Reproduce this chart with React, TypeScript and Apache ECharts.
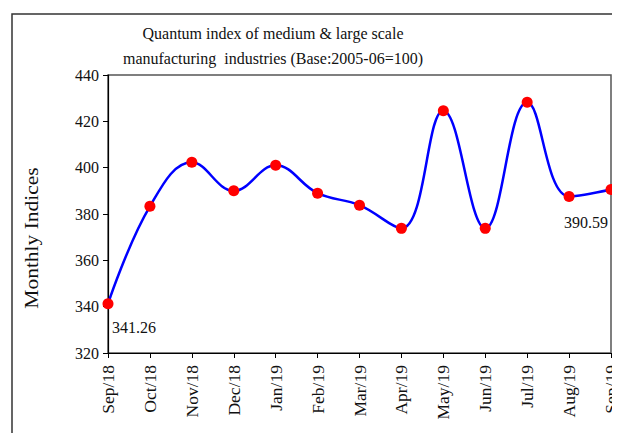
import React, { useEffect, useRef } from "react";
import * as echarts from "echarts";

const categories = ["Sep/18", "Oct/18", "Nov/18", "Dec/18", "Jan/19", "Feb/19", "Mar/19", "Apr/19", "May/19", "Jun/19", "Jul/19", "Aug/19", "Sep/19"];
const values = [341.26, 383.3, 402.3, 390.0, 401.0, 389.0, 383.8, 373.8, 424.6, 373.8, 428.2, 387.6, 390.59];
const titleLines = ["Quantum index of medium & large scale", "manufacturing  industries (Base:2005-06=100)"];
const yAxisName = "Monthly Indices";
const FONT = "Liberation Serif";

export default function App() {
  const ref = useRef<HTMLDivElement>(null);
  useEffect(() => {
    if (!ref.current) return;
    const chart = echarts.init(ref.current, null, { renderer: "svg" });
    const lastIdx = values.length - 1;
    chart.setOption({
      animation: false,
      backgroundColor: "#ffffff",
      textStyle: { fontFamily: FONT },
      title: {
        text: titleLines.join("\n"),
        left: 268,
        top: 16,
        textAlign: "center",
        textStyle: { fontFamily: FONT, fontSize: 16, fontWeight: "normal", color: "#111", lineHeight: 25 },
      },
      graphic: [
        {
          type: "rect",
          shape: { x: 12, y: 14, width: 800, height: 600 },
          style: { fill: "none", stroke: "#333", lineWidth: 1.5 },
          silent: true,
          z: -1,
        },
        {
          type: "text",
          x: 31,
          y: 238,
          rotation: Math.PI / 2,
          scaleX: 1.13,
          style: {
            text: yAxisName,
            font: `19px ${FONT}`,
            fill: "#111",
            align: "center",
            verticalAlign: "middle",
          },
          silent: true,
        },
      ],
      grid: {
        left: 108,
        top: 75,
        right: 7,
        bottom: 88,
        show: true,
        borderColor: "#555",
        borderWidth: 1.5,
        backgroundColor: "transparent",
      },
      xAxis: {
        type: "category",
        data: categories,
        boundaryGap: false,
        axisLine: { lineStyle: { color: "#000", width: 1.2 } },
        axisTick: { show: true, alignWithLabel: true, length: 5, lineStyle: { color: "#000" } },
        axisLabel: { rotate: 90, interval: 0, fontFamily: FONT, fontSize: 17.5, color: "#111", margin: 12 },
        splitLine: { show: false },
      },
      yAxis: {
        type: "value",
        min: 320,
        max: 440,
        interval: 20,
        axisLine: { show: true, lineStyle: { color: "#000", width: 1.2 } },
        axisTick: { show: true, length: 5, lineStyle: { color: "#000" } },
        axisLabel: { fontFamily: FONT, fontSize: 16, color: "#111", margin: 9 },
        splitLine: { show: false },
      },
      series: [
        {
          type: "line",
          data: values.map((v, i) => {
            if (i === 0) {
              return { value: v, label: { show: true, position: "bottom", offset: [26, 5] } };
            }
            if (i === lastIdx) {
              return { value: v, label: { show: true, position: "bottom", offset: [-25, 15] } };
            }
            return v;
          }),
          smooth: 0.4,
          symbol: "circle",
          symbolSize: 11,
          lineStyle: { color: "#0000ff", width: 2.5 },
          itemStyle: { color: "#ff0000" },
          label: { show: false, fontFamily: FONT, fontSize: 16, color: "#111", formatter: (p: any) => p.value.toFixed(2) },
          clip: false,
        },
      ],
    });
    return () => chart.dispose();
  }, []);
  return <div ref={ref} style={{ width: 620, height: 441, margin: -8 }} />;
}
